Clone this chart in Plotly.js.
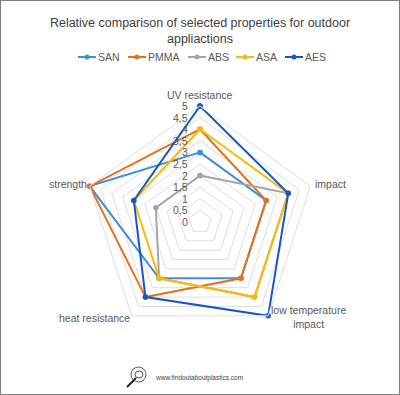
<!DOCTYPE html>
<html><head><meta charset="utf-8">
<script src="https://cdn.plot.ly/plotly-3.0.1.min.js"></script>
<style>html,body{margin:0;padding:0;background:#fff;overflow:hidden}
#frame{position:absolute;left:0;top:0;width:398px;height:393px;border:1px solid #7f7f7f;pointer-events:none;z-index:5}
#c{width:400px;height:395px}</style></head>
<body><div id="c"></div><div id="frame"></div>
<script>
const categories = ["UV resistance","impact","low temperature<br>impact","heat resistance","strength"];
const seriesNames = ["SAN","PMMA","ABS","ASA","AES"];
const SAN  = [3,3,3,3,5];
const PMMA = [4,3,3,4,5];
const ABS  = [2,4,4,3,2];
const ASA  = [4,4,4,3,3];
const AES  = [5,4,5,4,3];
const lineColors = ["#3F8FD6","#E8701F","#A5A5A5","#FFB900","#1558C0"];
const values = [SAN,PMMA,ABS,ASA,AES];
const radialTicks = [0,0.5,1,1.5,2,2.5,3,3.5,4,4.5,5];
const radialLabels = ["0","0,5","1","1,5","2","2,5","3","3,5","4","4,5","5"];
const font = "Liberation Sans, Arial, sans-serif";
const W=400, H=395, cx=200, cy=222, R=116;
const px = x=>x/W, py = y=>1-y/H;
const traces = seriesNames.map((n,i)=>({
  type:"scatterpolar",mode:"lines+markers",name:n,showlegend:false,
  r:values[i].concat(values[i][0]),
  theta:categories.concat(categories[0]),
  line:{color:lineColors[i],width:2},
  marker:{color:lineColors[i],size:5.5}
}));
const labelPos = [[200,95],[330,184],[308,317],[94.5,318],[67.5,184]];
const annotations = categories.map((c,i)=>({text:c,xref:"paper",yref:"paper",x:px(labelPos[i][0]),y:py(labelPos[i][1]),
  xanchor:"center",yanchor:"middle",showarrow:false,align:"center",font:{family:font,size:10.5,color:"#595959"}}));
radialTicks.forEach((v,i)=>annotations.push({text:radialLabels[i],xref:"paper",yref:"paper",x:px(190),y:py(cy-R*v/5),
  xanchor:"right",yanchor:"middle",showarrow:false,font:{family:font,size:10.5,color:"#595959"}}));
annotations.push({text:"www.findoutaboutplastics.com",xref:"paper",yref:"paper",x:px(153),y:py(378),xanchor:"left",yanchor:"middle",showarrow:false,font:{family:font,size:6.5,color:"#404040"}});
const legendX = [78,128,188,236,285];
const shapes = [];
seriesNames.forEach((n,i)=>{
  const x=legendX[i], y=57;
  shapes.push({type:"line",xref:"paper",yref:"paper",x0:px(x),x1:px(x+18),y0:py(y),y1:py(y),line:{color:lineColors[i],width:2}});
  shapes.push({type:"circle",xref:"paper",yref:"paper",x0:px(x+6.5),x1:px(x+11.5),y0:py(y+2.5),y1:py(y-2.5),fillcolor:lineColors[i],line:{width:0}});
  annotations.push({text:n,xref:"paper",yref:"paper",x:px(x+17.5),y:py(y),xanchor:"left",yanchor:"middle",showarrow:false,font:{family:font,size:10.5,color:"#595959"}});
});
shapes.push(
 {type:"circle",xref:"paper",yref:"paper",x0:px(131),x1:px(146),y0:py(382),y1:py(367),line:{color:"#555",width:1}},
 {type:"circle",xref:"paper",yref:"paper",x0:px(135),x1:px(143),y0:py(378),y1:py(371),line:{color:"#555",width:1}},
 {type:"line",xref:"paper",yref:"paper",x0:px(127),x1:px(136),y0:py(387),y1:py(378),line:{color:"#222",width:2}}
);
Plotly.newPlot("c",traces,{
  width:W,height:H,margin:{l:0,r:0,t:0,b:0},
  paper_bgcolor:"#fff",plot_bgcolor:"#fff",separators:", ",
  title:{text:"Relative comparison of selected properties for outdoor<br>appliactions",
    font:{family:font,size:12.5,color:"#404040"},x:0.5,xanchor:"center",y:py(27),yanchor:"top"},
  showlegend:false,
  polar:{
    domain:{x:[0,1],y:[(H-cy-R)/H,(H-cy+R)/H]},
    gridshape:"linear",bgcolor:"#fff",
    angularaxis:{direction:"clockwise",rotation:90,type:"category",categoryorder:"array",categoryarray:categories,
      showline:true,linecolor:"#dedede",linewidth:1,showgrid:false,ticks:"",showticklabels:false},
    radialaxis:{range:[0,5],tickmode:"array",tickvals:radialTicks,angle:90,side:"counterclockwise",
      showline:false,ticks:"",showgrid:true,gridcolor:"#dedede",gridwidth:1,showticklabels:false}
  },
  annotations,shapes
},{staticPlot:true,displayModeBar:false});
</script></body></html>
